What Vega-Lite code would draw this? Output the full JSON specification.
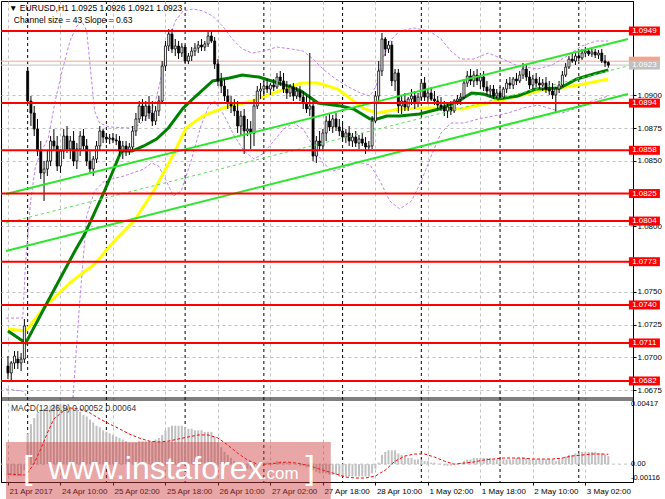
{
"$schema": "https://vega.github.io/schema/vega-lite/v6.json",
"padding": 0,
"background": "#ffffff",
"width": 632,
"height": 481,
"config": {
  "font": "Liberation Sans",
  "view": {"stroke": "#000000", "strokeWidth": 1},
  "axis": {"labelFont": "Liberation Sans", "labelFontSize": 8, "labelColor": "#000000", "tickColor": "#000000", "domainColor": "#000000", "gridColor": "#c0c0c0", "gridDash": [3,3], "gridWidth": 1, "tickSize": 3, "labelPadding": 1, "labelOverlap": false, "labelBound": false, "minExtent": 0}
},
"resolve": {"scale": {"y": "independent"}, "axis": {"y": "independent"}},
"datasets": {
  "candles": [
{"i":0,"o":1.06934,"h":1.0701,"l":1.06835,"c":1.06881,"m":-0.00072},
{"i":1,"o":1.06881,"h":1.06972,"l":1.0682,"c":1.06957,"m":-0.00075},
{"i":2,"o":1.06957,"h":1.07048,"l":1.06911,"c":1.0701,"m":-0.00078},
{"i":3,"o":1.06987,"h":1.07048,"l":1.06911,"c":1.06957,"m":-0.0008},
{"i":4,"o":1.06957,"h":1.07033,"l":1.06896,"c":1.06987,"m":-0.00078},
{"i":5,"o":1.06987,"h":1.07293,"l":1.06957,"c":1.0724,"m":-0.0004},
{"i":6,"o":1.09185,"h":1.09215,"l":1.08941,"c":1.08956,"m":0.002},
{"i":7,"o":1.08956,"h":1.08994,"l":1.08765,"c":1.08864,"m":0.0026},
{"i":8,"o":1.08864,"h":1.08918,"l":1.08689,"c":1.08742,"m":0.003},
{"i":9,"o":1.08742,"h":1.08819,"l":1.08536,"c":1.08574,"m":0.0033},
{"i":10,"o":1.08574,"h":1.08651,"l":1.08361,"c":1.08407,"m":0.0035},
{"i":11,"o":1.08407,"h":1.08498,"l":1.08193,"c":1.08437,"m":0.0036},
{"i":12,"o":1.08437,"h":1.08574,"l":1.08384,"c":1.08498,"m":0.0037},
{"i":13,"o":1.08498,"h":1.08689,"l":1.0846,"c":1.08651,"m":0.0038},
{"i":14,"o":1.08651,"h":1.08742,"l":1.08574,"c":1.08613,"m":0.0039},
{"i":15,"o":1.08613,"h":1.08689,"l":1.08422,"c":1.0846,"m":0.0039},
{"i":16,"o":1.0846,"h":1.0859,"l":1.08407,"c":1.08574,"m":0.0039},
{"i":17,"o":1.08574,"h":1.08742,"l":1.08513,"c":1.08689,"m":0.0039},
{"i":18,"o":1.08689,"h":1.08765,"l":1.08559,"c":1.0859,"m":0.0038},
{"i":19,"o":1.0859,"h":1.08689,"l":1.08513,"c":1.08651,"m":0.0037},
{"i":20,"o":1.08651,"h":1.08727,"l":1.0846,"c":1.08498,"m":0.0036},
{"i":21,"o":1.08498,"h":1.08635,"l":1.08437,"c":1.0859,"m":0.0035},
{"i":22,"o":1.0859,"h":1.08727,"l":1.08536,"c":1.08689,"m":0.0034},
{"i":23,"o":1.08689,"h":1.08742,"l":1.08574,"c":1.08613,"m":0.0032},
{"i":24,"o":1.08613,"h":1.08666,"l":1.0846,"c":1.08498,"m":0.0031},
{"i":25,"o":1.08498,"h":1.08574,"l":1.08407,"c":1.08437,"m":0.0029},
{"i":26,"o":1.08437,"h":1.08536,"l":1.08384,"c":1.08513,"m":0.0027},
{"i":27,"o":1.08513,"h":1.08651,"l":1.08483,"c":1.08613,"m":0.0025},
{"i":28,"o":1.08613,"h":1.08765,"l":1.08574,"c":1.08727,"m":0.0024},
{"i":29,"o":1.08727,"h":1.08742,"l":1.08635,"c":1.08681,"m":0.0022},
{"i":30,"o":1.08681,"h":1.08712,"l":1.08635,"c":1.08666,"m":0.0021},
{"i":31,"o":1.08666,"h":1.08704,"l":1.08628,"c":1.08674,"m":0.002},
{"i":32,"o":1.08674,"h":1.08712,"l":1.08635,"c":1.08659,"m":0.0019},
{"i":33,"o":1.08659,"h":1.08704,"l":1.0862,"c":1.08651,"m":0.0018},
{"i":34,"o":1.08651,"h":1.08689,"l":1.08536,"c":1.08574,"m":0.0017},
{"i":35,"o":1.08574,"h":1.08651,"l":1.08513,"c":1.08613,"m":0.0016},
{"i":36,"o":1.08613,"h":1.08651,"l":1.08536,"c":1.08574,"m":0.0015},
{"i":37,"o":1.08574,"h":1.08635,"l":1.08544,"c":1.08605,"m":0.0014},
{"i":38,"o":1.08605,"h":1.08765,"l":1.08574,"c":1.08727,"m":0.0014},
{"i":39,"o":1.08727,"h":1.08864,"l":1.08689,"c":1.08819,"m":0.0014},
{"i":40,"o":1.08819,"h":1.08956,"l":1.08788,"c":1.08918,"m":0.0015},
{"i":41,"o":1.08918,"h":1.08971,"l":1.08803,"c":1.08841,"m":0.0015},
{"i":42,"o":1.08841,"h":1.08956,"l":1.08803,"c":1.08918,"m":0.0015},
{"i":43,"o":1.08918,"h":1.08994,"l":1.08819,"c":1.08864,"m":0.0015},
{"i":44,"o":1.08864,"h":1.08956,"l":1.08765,"c":1.08803,"m":0.0015},
{"i":45,"o":1.08803,"h":1.08918,"l":1.08773,"c":1.0888,"m":0.0016},
{"i":46,"o":1.0888,"h":1.08994,"l":1.08841,"c":1.08956,"m":0.0017},
{"i":47,"o":1.08956,"h":1.09261,"l":1.08941,"c":1.09223,"m":0.0019},
{"i":48,"o":1.09223,"h":1.09414,"l":1.09185,"c":1.09376,"m":0.0022},
{"i":49,"o":1.09376,"h":1.09505,"l":1.09337,"c":1.09467,"m":0.0024},
{"i":50,"o":1.09467,"h":1.09505,"l":1.09322,"c":1.09353,"m":0.0025},
{"i":51,"o":1.09353,"h":1.09429,"l":1.09299,"c":1.09376,"m":0.0025},
{"i":52,"o":1.09376,"h":1.09414,"l":1.09276,"c":1.09322,"m":0.0025},
{"i":53,"o":1.09322,"h":1.09398,"l":1.09292,"c":1.09368,"m":0.0025},
{"i":54,"o":1.09368,"h":1.09383,"l":1.09246,"c":1.09261,"m":0.0024},
{"i":55,"o":1.09261,"h":1.09322,"l":1.09238,"c":1.09299,"m":0.0023},
{"i":56,"o":1.09299,"h":1.09368,"l":1.09261,"c":1.09337,"m":0.0023},
{"i":57,"o":1.09337,"h":1.09398,"l":1.09299,"c":1.0936,"m":0.0022},
{"i":58,"o":1.0936,"h":1.09414,"l":1.09322,"c":1.09383,"m":0.0022},
{"i":59,"o":1.09383,"h":1.09429,"l":1.09337,"c":1.09368,"m":0.0022},
{"i":60,"o":1.09368,"h":1.09414,"l":1.09337,"c":1.09391,"m":0.0021},
{"i":61,"o":1.09391,"h":1.0949,"l":1.09368,"c":1.09452,"m":0.0021},
{"i":62,"o":1.09452,"h":1.0949,"l":1.09398,"c":1.09414,"m":0.0021},
{"i":63,"o":1.09414,"h":1.09444,"l":1.092,"c":1.09238,"m":0.0018},
{"i":64,"o":1.09238,"h":1.09276,"l":1.0907,"c":1.09109,"m":0.0014},
{"i":65,"o":1.09109,"h":1.0917,"l":1.09017,"c":1.0907,"m":0.0011},
{"i":66,"o":1.0907,"h":1.09124,"l":1.08956,"c":1.08994,"m":0.0008},
{"i":67,"o":1.08994,"h":1.09047,"l":1.08895,"c":1.08941,"m":0.0006},
{"i":68,"o":1.08941,"h":1.08994,"l":1.08864,"c":1.08918,"m":0.0004},
{"i":69,"o":1.08918,"h":1.08971,"l":1.08841,"c":1.0888,"m":0.0002},
{"i":70,"o":1.0888,"h":1.08956,"l":1.08712,"c":1.08765,"m":0.00002},
{"i":71,"o":1.08765,"h":1.0888,"l":1.08689,"c":1.08841,"m":-0.0001},
{"i":72,"o":1.08841,"h":1.08895,"l":1.08552,"c":1.08727,"m":-0.0002},
{"i":73,"o":1.08727,"h":1.08819,"l":1.08689,"c":1.08742,"m":-0.0003},
{"i":74,"o":1.08742,"h":1.08803,"l":1.0859,"c":1.08712,"m":-0.0003},
{"i":75,"o":1.08712,"h":1.08971,"l":1.08613,"c":1.08918,"m":-0.0002},
{"i":76,"o":1.08918,"h":1.0907,"l":1.08895,"c":1.09032,"m":-0.0001},
{"i":77,"o":1.09032,"h":1.09093,"l":1.08971,"c":1.09047,"m":0.00002},
{"i":78,"o":1.09047,"h":1.09109,"l":1.08994,"c":1.0907,"m":0.0001},
{"i":79,"o":1.0907,"h":1.09124,"l":1.09017,"c":1.09047,"m":0.0001},
{"i":80,"o":1.09047,"h":1.09093,"l":1.09002,"c":1.09078,"m":0.0001},
{"i":81,"o":1.09078,"h":1.09124,"l":1.09032,"c":1.09063,"m":0.0001},
{"i":82,"o":1.09063,"h":1.0917,"l":1.09047,"c":1.09139,"m":0.0002},
{"i":83,"o":1.09139,"h":1.09185,"l":1.0907,"c":1.09109,"m":0.0002},
{"i":84,"o":1.09109,"h":1.0917,"l":1.09017,"c":1.09047,"m":0.0001},
{"i":85,"o":1.09047,"h":1.09109,"l":1.08971,"c":1.09017,"m":0.0001},
{"i":86,"o":1.09017,"h":1.09086,"l":1.08986,"c":1.09063,"m":0.0001},
{"i":87,"o":1.09063,"h":1.09093,"l":1.08956,"c":1.08994,"m":0.00002},
{"i":88,"o":1.08994,"h":1.09063,"l":1.08971,"c":1.09032,"m":0.00002},
{"i":89,"o":1.09032,"h":1.0907,"l":1.08956,"c":1.08986,"m":-0.0001},
{"i":90,"o":1.08986,"h":1.09032,"l":1.08895,"c":1.08941,"m":-0.0001},
{"i":91,"o":1.08941,"h":1.09002,"l":1.08864,"c":1.08895,"m":-0.0002},
{"i":92,"o":1.08895,"h":1.09322,"l":1.08841,"c":1.08918,"m":-0.0002},
{"i":93,"o":1.08918,"h":1.08956,"l":1.08498,"c":1.08536,"m":-0.0004},
{"i":94,"o":1.08536,"h":1.08689,"l":1.08483,"c":1.08651,"m":-0.0005},
{"i":95,"o":1.08651,"h":1.08727,"l":1.08574,"c":1.08613,"m":-0.0006},
{"i":96,"o":1.08613,"h":1.08742,"l":1.08574,"c":1.08712,"m":-0.0006},
{"i":97,"o":1.08712,"h":1.08841,"l":1.08651,"c":1.08803,"m":-0.0006},
{"i":98,"o":1.08803,"h":1.08864,"l":1.08727,"c":1.08758,"m":-0.0007},
{"i":99,"o":1.08758,"h":1.08849,"l":1.08712,"c":1.08819,"m":-0.0007},
{"i":100,"o":1.08819,"h":1.08864,"l":1.08727,"c":1.08758,"m":-0.0007},
{"i":101,"o":1.08758,"h":1.08819,"l":1.08689,"c":1.08727,"m":-0.0008},
{"i":102,"o":1.08727,"h":1.08788,"l":1.08651,"c":1.08681,"m":-0.0008},
{"i":103,"o":1.08681,"h":1.08742,"l":1.08635,"c":1.08712,"m":-0.0008},
{"i":104,"o":1.08712,"h":1.08765,"l":1.08613,"c":1.08651,"m":-0.0008},
{"i":105,"o":1.08651,"h":1.08712,"l":1.08605,"c":1.08681,"m":-0.0008},
{"i":106,"o":1.08681,"h":1.08727,"l":1.08605,"c":1.08635,"m":-0.0008},
{"i":107,"o":1.08635,"h":1.08697,"l":1.0859,"c":1.08666,"m":-0.0008},
{"i":108,"o":1.08666,"h":1.08712,"l":1.08613,"c":1.08635,"m":-0.0008},
{"i":109,"o":1.08635,"h":1.08681,"l":1.08552,"c":1.08605,"m":-0.0008},
{"i":110,"o":1.08605,"h":1.08651,"l":1.08574,"c":1.08613,"m":-0.0008},
{"i":111,"o":1.08613,"h":1.08841,"l":1.0859,"c":1.08803,"m":-0.0006},
{"i":112,"o":1.08803,"h":1.09032,"l":1.08788,"c":1.08994,"m":-0.0003},
{"i":113,"o":1.08994,"h":1.09261,"l":1.08956,"c":1.09185,"m":0.0001},
{"i":114,"o":1.09185,"h":1.09475,"l":1.09147,"c":1.09429,"m":0.0006},
{"i":115,"o":1.09429,"h":1.09444,"l":1.09299,"c":1.09353,"m":0.0008},
{"i":116,"o":1.09353,"h":1.09414,"l":1.09322,"c":1.09383,"m":0.0009},
{"i":117,"o":1.09383,"h":1.09414,"l":1.0907,"c":1.09109,"m":0.0009},
{"i":118,"o":1.09109,"h":1.092,"l":1.09032,"c":1.0917,"m":0.0009},
{"i":119,"o":1.0917,"h":1.092,"l":1.08864,"c":1.08918,"m":0.0007},
{"i":120,"o":1.08918,"h":1.08994,"l":1.08857,"c":1.08956,"m":0.0006},
{"i":121,"o":1.08956,"h":1.09017,"l":1.0888,"c":1.0891,"m":0.0005},
{"i":122,"o":1.0891,"h":1.08986,"l":1.0888,"c":1.08971,"m":0.0004},
{"i":123,"o":1.08971,"h":1.09047,"l":1.08925,"c":1.08994,"m":0.0004},
{"i":124,"o":1.08994,"h":1.09032,"l":1.08895,"c":1.08941,"m":0.0003},
{"i":125,"o":1.08941,"h":1.09017,"l":1.0891,"c":1.08986,"m":0.0003},
{"i":126,"o":1.08986,"h":1.09124,"l":1.08956,"c":1.09093,"m":0.0003},
{"i":127,"o":1.09093,"h":1.09139,"l":1.08956,"c":1.08986,"m":0.0002},
{"i":128,"o":1.08986,"h":1.09047,"l":1.08941,"c":1.09017,"m":0.0002},
{"i":129,"o":1.09017,"h":1.09063,"l":1.08956,"c":1.08971,"m":0.0001},
{"i":130,"o":1.08971,"h":1.09032,"l":1.08925,"c":1.08956,"m":0.0001},
{"i":131,"o":1.08956,"h":1.08994,"l":1.08895,"c":1.08925,"m":0.00002},
{"i":132,"o":1.08925,"h":1.08986,"l":1.0888,"c":1.0891,"m":0.00002},
{"i":133,"o":1.0891,"h":1.08956,"l":1.08841,"c":1.0888,"m":-0.0001},
{"i":134,"o":1.0888,"h":1.08941,"l":1.08826,"c":1.0891,"m":-0.0001},
{"i":135,"o":1.0891,"h":1.08956,"l":1.08849,"c":1.0888,"m":-0.0001},
{"i":136,"o":1.0888,"h":1.08971,"l":1.08864,"c":1.08956,"m":0.00002},
{"i":137,"o":1.08956,"h":1.09002,"l":1.08925,"c":1.08971,"m":0.00002},
{"i":138,"o":1.08971,"h":1.09017,"l":1.08925,"c":1.08986,"m":0.0001},
{"i":139,"o":1.08986,"h":1.09124,"l":1.08971,"c":1.09093,"m":0.0002},
{"i":140,"o":1.09093,"h":1.09185,"l":1.09063,"c":1.09147,"m":0.0003},
{"i":141,"o":1.09147,"h":1.092,"l":1.09078,"c":1.09109,"m":0.0003},
{"i":142,"o":1.09109,"h":1.09185,"l":1.09063,"c":1.09154,"m":0.0004},
{"i":143,"o":1.09154,"h":1.092,"l":1.09078,"c":1.09109,"m":0.0004},
{"i":144,"o":1.09109,"h":1.0917,"l":1.09047,"c":1.09139,"m":0.0004},
{"i":145,"o":1.09139,"h":1.09185,"l":1.09032,"c":1.09063,"m":0.0004},
{"i":146,"o":1.09063,"h":1.09109,"l":1.09002,"c":1.09032,"m":0.0004},
{"i":147,"o":1.09032,"h":1.09078,"l":1.08986,"c":1.09047,"m":0.0004},
{"i":148,"o":1.09047,"h":1.09078,"l":1.08971,"c":1.08994,"m":0.0003},
{"i":149,"o":1.08994,"h":1.09047,"l":1.08964,"c":1.09017,"m":0.0003},
{"i":150,"o":1.09017,"h":1.09063,"l":1.08971,"c":1.08986,"m":0.0003},
{"i":151,"o":1.08986,"h":1.09063,"l":1.08971,"c":1.09047,"m":0.0003},
{"i":152,"o":1.09047,"h":1.09124,"l":1.09017,"c":1.09093,"m":0.0003},
{"i":153,"o":1.09093,"h":1.09139,"l":1.09047,"c":1.09078,"m":0.0003},
{"i":154,"o":1.09078,"h":1.09139,"l":1.09047,"c":1.09124,"m":0.0003},
{"i":155,"o":1.09124,"h":1.0917,"l":1.09078,"c":1.09109,"m":0.0004},
{"i":156,"o":1.09109,"h":1.09185,"l":1.09093,"c":1.09154,"m":0.0004},
{"i":157,"o":1.09154,"h":1.09246,"l":1.09124,"c":1.092,"m":0.0004},
{"i":158,"o":1.092,"h":1.09231,"l":1.09109,"c":1.09139,"m":0.0004},
{"i":159,"o":1.09139,"h":1.09185,"l":1.09047,"c":1.09078,"m":0.0003},
{"i":160,"o":1.09078,"h":1.09154,"l":1.09047,"c":1.09124,"m":0.0003},
{"i":161,"o":1.09124,"h":1.0917,"l":1.09063,"c":1.09093,"m":0.0003},
{"i":162,"o":1.09093,"h":1.09139,"l":1.09047,"c":1.09078,"m":0.0003},
{"i":163,"o":1.09078,"h":1.09124,"l":1.09032,"c":1.09093,"m":0.0003},
{"i":164,"o":1.09093,"h":1.09139,"l":1.09017,"c":1.09047,"m":0.0003},
{"i":165,"o":1.09047,"h":1.09109,"l":1.09002,"c":1.09032,"m":0.0003},
{"i":166,"o":1.09032,"h":1.09093,"l":1.08971,"c":1.09002,"m":0.0003},
{"i":167,"o":1.09002,"h":1.09063,"l":1.08864,"c":1.09047,"m":0.0002},
{"i":168,"o":1.09047,"h":1.09109,"l":1.09017,"c":1.09078,"m":0.0003},
{"i":169,"o":1.09078,"h":1.09185,"l":1.09063,"c":1.09154,"m":0.0004},
{"i":170,"o":1.09154,"h":1.09246,"l":1.09139,"c":1.09215,"m":0.0005},
{"i":171,"o":1.09215,"h":1.09299,"l":1.092,"c":1.09276,"m":0.0006},
{"i":172,"o":1.09276,"h":1.09322,"l":1.09246,"c":1.09261,"m":0.0006},
{"i":173,"o":1.09261,"h":1.09322,"l":1.09231,"c":1.09299,"m":0.0007},
{"i":174,"o":1.09299,"h":1.09337,"l":1.09261,"c":1.09284,"m":0.0007},
{"i":175,"o":1.09284,"h":1.09353,"l":1.09269,"c":1.09322,"m":0.0008},
{"i":176,"o":1.09322,"h":1.09368,"l":1.09292,"c":1.09337,"m":0.0008},
{"i":177,"o":1.09337,"h":1.0936,"l":1.09299,"c":1.09315,"m":0.0008},
{"i":178,"o":1.09315,"h":1.09353,"l":1.09292,"c":1.0933,"m":0.0008},
{"i":179,"o":1.0933,"h":1.09353,"l":1.09284,"c":1.09307,"m":0.0008},
{"i":180,"o":1.09307,"h":1.09345,"l":1.09276,"c":1.09322,"m":0.0007},
{"i":181,"o":1.09322,"h":1.09353,"l":1.09246,"c":1.09261,"m":0.0007},
{"i":182,"o":1.09261,"h":1.09307,"l":1.09215,"c":1.09246,"m":0.0006},
{"i":183,"o":1.0925,"h":1.0926,"l":1.0921,"c":1.0923,"m":0.00052}
  ],
  "sig": [
{"i":0,"m":-0.00064},{"i":5,"m":-0.00071},{"i":6,"m":-0.00058},{"i":8,"m":0.00007},{"i":10,"m":0.00098},{"i":12,"m":0.00202},{"i":14,"m":0.00294},{"i":17,"m":0.00346},{"i":19,"m":0.00365},{"i":22,"m":0.00358},{"i":25,"m":0.00333},{"i":28,"m":0.00294},{"i":31,"m":0.00261},{"i":34,"m":0.00229},{"i":37,"m":0.00196},{"i":40,"m":0.0017},{"i":43,"m":0.0015},{"i":46,"m":0.00144},{"i":49,"m":0.0015},{"i":52,"m":0.00164},{"i":55,"m":0.00177},{"i":58,"m":0.0019},{"i":61,"m":0.0019},{"i":64,"m":0.0017},{"i":67,"m":0.00124},{"i":70,"m":0.00072},{"i":73,"m":0.00027},{"i":76,"m":0.0},{"i":79,"m":0.0},{"i":82,"m":0.00007},{"i":85,"m":0.00014},{"i":88,"m":0.00007},{"i":91,"m":-0.00006},{"i":94,"m":-0.00025},{"i":97,"m":-0.00045},{"i":100,"m":-0.00064},{"i":103,"m":-0.00084},{"i":106,"m":-0.0009},{"i":109,"m":-0.0009},{"i":112,"m":-0.00077},{"i":115,"m":-0.00039},{"i":118,"m":0.0002},{"i":121,"m":0.00053},{"i":124,"m":0.00066},{"i":127,"m":0.00066},{"i":130,"m":0.00046},{"i":133,"m":0.0002},{"i":136,"m":0.0},{"i":139,"m":0.00007},{"i":142,"m":0.00014},{"i":145,"m":0.00027},{"i":148,"m":0.00033},{"i":151,"m":0.0004},{"i":154,"m":0.0004},{"i":157,"m":0.0004},{"i":160,"m":0.00033},{"i":163,"m":0.00033},{"i":166,"m":0.00033},{"i":169,"m":0.0004},{"i":172,"m":0.00053},{"i":175,"m":0.00059},{"i":178,"m":0.00066},{"i":181,"m":0.00066},{"i":183,"m":0.00064}
  ],
  "ma": [
{"s":"g","i":0,"p":1.07201},{"s":"g","i":5.4,"p":1.07109},{"s":"g","i":11.4,"p":1.07392},{"s":"g","i":20.4,"p":1.07811},{"s":"g","i":23.4,"p":1.07941},{"s":"g","i":29.4,"p":1.08269},{"s":"g","i":32.4,"p":1.08445},{"s":"g","i":34.5,"p":1.08574},{"s":"g","i":37.8,"p":1.08574},{"s":"g","i":41.4,"p":1.08613},{"s":"g","i":45.3,"p":1.08666},{"s":"g","i":48.9,"p":1.0875},{"s":"g","i":53.4,"p":1.08902},{"s":"g","i":57.3,"p":1.08994},{"s":"g","i":62.4,"p":1.09109},{"s":"g","i":67.5,"p":1.09131},{"s":"g","i":71.4,"p":1.09154},{"s":"g","i":76.5,"p":1.09139},{"s":"g","i":80.4,"p":1.09109},{"s":"g","i":85.5,"p":1.0907},{"s":"g","i":89.4,"p":1.09032},{"s":"g","i":94.5,"p":1.08941},{"s":"g","i":101.4,"p":1.08918},{"s":"g","i":105.3,"p":1.08895},{"s":"g","i":110.4,"p":1.08819},{"s":"g","i":112.5,"p":1.08819},{"s":"g","i":115.5,"p":1.08841},{"s":"g","i":119.4,"p":1.08841},{"s":"g","i":125.4,"p":1.08857},{"s":"g","i":131.4,"p":1.08895},{"s":"g","i":137.4,"p":1.08956},{"s":"g","i":141.3,"p":1.09017},{"s":"g","i":144.9,"p":1.09009},{"s":"g","i":149.4,"p":1.08971},{"s":"g","i":155.4,"p":1.08994},{"s":"g","i":160.8,"p":1.09047},{"s":"g","i":168.3,"p":1.09055},{"s":"g","i":173.4,"p":1.09124},{"s":"g","i":178.5,"p":1.09162},{"s":"g","i":183,"p":1.09192},
{"s":"y","i":0,"p":1.07216},{"s":"y","i":5.4,"p":1.07201},{"s":"y","i":11.4,"p":1.07392},{"s":"y","i":19.5,"p":1.07582},{"s":"y","i":26.4,"p":1.07712},{"s":"y","i":32.4,"p":1.07888},{"s":"y","i":38.4,"p":1.0804},{"s":"y","i":44.4,"p":1.08269},{"s":"y","i":48.9,"p":1.08475},{"s":"y","i":54.3,"p":1.0875},{"s":"y","i":59.4,"p":1.08841},{"s":"y","i":65.4,"p":1.08902},{"s":"y","i":74.4,"p":1.08956},{"s":"y","i":82.5,"p":1.09032},{"s":"y","i":89.4,"p":1.09093},{"s":"y","i":94.5,"p":1.09093},{"s":"y","i":100.5,"p":1.09047},{"s":"y","i":108.3,"p":1.08902},{"s":"y","i":112.5,"p":1.08864},{"s":"y","i":119.4,"p":1.08895},{"s":"y","i":127.5,"p":1.08902},{"s":"y","i":133.5,"p":1.08902},{"s":"y","i":138.3,"p":1.08895},{"s":"y","i":144.9,"p":1.08933},{"s":"y","i":149.4,"p":1.08956},{"s":"y","i":155.4,"p":1.08994},{"s":"y","i":161.4,"p":1.09032},{"s":"y","i":168.3,"p":1.09055},{"s":"y","i":175.5,"p":1.09086},{"s":"y","i":183,"p":1.09124}
  ],
  "bands": [
{"b":"u","i":-0.6,"p":1.0730},{"b":"u","i":4.5,"p":1.0730},{"b":"u","i":5.4,"p":1.07735},{"b":"u","i":6.9,"p":1.08193},{"b":"u","i":8.4,"p":1.0846},{"b":"u","i":10.2,"p":1.08574},{"b":"u","i":12.3,"p":1.08674},{"b":"u","i":14.4,"p":1.08956},{"b":"u","i":16.5,"p":1.09185},{"b":"u","i":18.9,"p":1.09414},{"b":"u","i":21,"p":1.09528},{"b":"u","i":22.5,"p":1.09566},{"b":"u","i":24,"p":1.0949},{"b":"u","i":25.2,"p":1.09185},{"b":"u","i":26.4,"p":1.0888},{"b":"u","i":27.9,"p":1.08788},{"b":"u","i":30.9,"p":1.08758},{"b":"u","i":36.9,"p":1.0875},{"b":"u","i":39.9,"p":1.08773},{"b":"u","i":42.9,"p":1.08841},{"b":"u","i":45,"p":1.08956},{"b":"u","i":46.8,"p":1.09147},{"b":"u","i":48.9,"p":1.09414},{"b":"u","i":51,"p":1.09566},{"b":"u","i":53.4,"p":1.09643},{"b":"u","i":56.4,"p":1.09658},{"b":"u","i":59.4,"p":1.09643},{"b":"u","i":62.4,"p":1.09604},{"b":"u","i":65.4,"p":1.09528},{"b":"u","i":68.4,"p":1.09429},{"b":"u","i":71.4,"p":1.09353},{"b":"u","i":74.4,"p":1.09322},{"b":"u","i":78,"p":1.09337},{"b":"u","i":81.9,"p":1.09368},{"b":"u","i":86.4,"p":1.09353},{"b":"u","i":90,"p":1.09337},{"b":"u","i":93,"p":1.09276},{"b":"u","i":96,"p":1.092},{"b":"u","i":99.9,"p":1.09124},{"b":"u","i":103.8,"p":1.09063},{"b":"u","i":107.4,"p":1.09017},{"b":"u","i":110.4,"p":1.08994},{"b":"u","i":112.2,"p":1.0907},{"b":"u","i":114,"p":1.09261},{"b":"u","i":116.4,"p":1.09414},{"b":"u","i":119.4,"p":1.0949},{"b":"u","i":123.9,"p":1.09513},{"b":"u","i":128.4,"p":1.0949},{"b":"u","i":132,"p":1.09429},{"b":"u","i":135,"p":1.09337},{"b":"u","i":138,"p":1.09276},{"b":"u","i":141.9,"p":1.09276},{"b":"u","i":146.4,"p":1.09322},{"b":"u","i":150.9,"p":1.09276},{"b":"u","i":155.4,"p":1.09223},{"b":"u","i":161.4,"p":1.092},{"b":"u","i":165.9,"p":1.09231},{"b":"u","i":170.4,"p":1.09299},{"b":"u","i":174.9,"p":1.09376},{"b":"u","i":179.4,"p":1.09414},{"b":"u","i":183,"p":1.09414},
{"b":"l1","i":-0.6,"p":1.06758},{"b":"l1","i":4.5,"p":1.06743},{"b":"l1","i":5.4,"p":1.0672},{"b":"l1","i":5.46,"p":1.0669},
{"b":"l2","i":19.8,"p":1.0669},{"b":"l2","i":21.9,"p":1.0743},{"b":"l2","i":24,"p":1.08078},{"b":"l2","i":26.4,"p":1.08269},{"b":"l2","i":29.4,"p":1.08346},{"b":"l2","i":35.4,"p":1.08384},{"b":"l2","i":41.4,"p":1.08437},{"b":"l2","i":43.8,"p":1.08483},{"b":"l2","i":45.9,"p":1.0846},{"b":"l2","i":48,"p":1.08361},{"b":"l2","i":50.4,"p":1.08231},{"b":"l2","i":52.8,"p":1.08269},{"b":"l2","i":55.8,"p":1.08498},{"b":"l2","i":58.8,"p":1.08765},{"b":"l2","i":61.2,"p":1.08918},{"b":"l2","i":63,"p":1.08956},{"b":"l2","i":66,"p":1.08841},{"b":"l2","i":69,"p":1.08689},{"b":"l2","i":72,"p":1.08574},{"b":"l2","i":75,"p":1.08513},{"b":"l2","i":78,"p":1.08559},{"b":"l2","i":81,"p":1.08651},{"b":"l2","i":84,"p":1.08742},{"b":"l2","i":87,"p":1.08788},{"b":"l2","i":90,"p":1.08742},{"b":"l2","i":93,"p":1.08613},{"b":"l2","i":96,"p":1.08483},{"b":"l2","i":99,"p":1.08422},{"b":"l2","i":102.9,"p":1.08452},{"b":"l2","i":106.8,"p":1.0849},{"b":"l2","i":110.4,"p":1.08468},{"b":"l2","i":113.4,"p":1.08346},{"b":"l2","i":116.4,"p":1.08193},{"b":"l2","i":119.4,"p":1.08132},{"b":"l2","i":123,"p":1.08193},{"b":"l2","i":126,"p":1.08346},{"b":"l2","i":129,"p":1.08536},{"b":"l2","i":132,"p":1.08712},{"b":"l2","i":135,"p":1.08788},{"b":"l2","i":138.9,"p":1.08788},{"b":"l2","i":143.4,"p":1.08819},{"b":"l2","i":147.9,"p":1.08841},{"b":"l2","i":152.4,"p":1.08864},{"b":"l2","i":156.9,"p":1.08902},{"b":"l2","i":161.4,"p":1.08925},{"b":"l2","i":165.9,"p":1.08895},{"b":"l2","i":168.9,"p":1.08864},{"b":"l2","i":173.4,"p":1.08902},{"b":"l2","i":177.9,"p":1.08956},{"b":"l2","i":183,"p":1.08994}
  ],
  "chan": [
{"k":"up","i":-0.6,"p":1.08246},{"k":"up","i":189,"p":1.09429},
{"k":"lo","i":-0.6,"p":1.07811},{"k":"lo","i":189,"p":1.09009},
{"k":"mid","i":-0.6,"p":1.08025},{"k":"mid","i":189,"p":1.09223}
  ],
  "levels": [{"p":1.0949},{"p":1.0894},{"p":1.0858},{"p":1.0825},{"p":1.0804},{"p":1.0773},{"p":1.0740},{"p":1.0711},{"p":1.0682}],
  "quotes": [{"k":"ask","p":1.0926},{"k":"bid","p":1.0923}],
  "days": [{"i":6},{"i":30},{"i":54},{"i":78},{"i":102},{"i":126},{"i":150},{"i":174}]
},
"layer": [
{
  "layer": [
    {"data": {"name": "days"}, "mark": {"type": "rule", "color": "#000000", "strokeDash": [3,3], "strokeWidth": 1},
     "encoding": {"x": {"field": "i", "type": "quantitative", "scale": {"domain": [-0.6, 189], "nice": false, "zero": false},
       "axis": {"title": null, "values": [0,8,16,24,32,40,48,56,64,72,80,88,96,104,112,120,128,136,144,152,160,168,176,184],
         "labelExpr": "datum.value % 16 == 0 ? ['21 Apr 2017','24 Apr 10:00','25 Apr 02:00','25 Apr 18:00','26 Apr 10:00','27 Apr 02:00','27 Apr 18:00','28 Apr 10:00','1 May 02:00','1 May 18:00','2 May 10:00','3 May 02:00'][datum.value / 16] : ''",
         "labelAlign": "left", "labelOffset": 1, "labelFlush": false, "grid": true, "tickSize": 3, "labelPadding": 2}}}},
    {"data": {"name": "quotes"}, "mark": {"type": "rule", "strokeWidth": 1},
     "encoding": {
       "y": {"field": "p", "type": "quantitative", "scale": {"domain": [1.060492, 1.09719], "nice": false, "zero": false},
             "axis": {"orient": "right", "title": null, "values": [1.0675,1.07,1.0725,1.075,1.08,1.085,1.0875,1.09], "format": ".4f", "grid": true, "tickSize": 3}},
       "color": {"field": "k", "type": "nominal", "scale": {"domain": ["ask","bid"], "range": ["#f4a48c","#c0c0c0"]}, "legend": null}}},
    {"data": {"name": "bands"}, "mark": {"type": "line", "color": "#c27ff0", "strokeWidth": 1, "strokeDash": [3,2]},
     "encoding": {"x": {"field": "i", "type": "quantitative"}, "y": {"field": "p", "type": "quantitative"}, "detail": {"field": "b"}}},
    {"data": {"name": "ma"}, "transform": [{"filter": "datum.s == 'y'"}], "mark": {"type": "line", "color": "#ffff00", "strokeWidth": 3},
     "encoding": {"x": {"field": "i", "type": "quantitative"}, "y": {"field": "p", "type": "quantitative"}}},
    {"data": {"name": "ma"}, "transform": [{"filter": "datum.s == 'g'"}], "mark": {"type": "line", "color": "#008000", "strokeWidth": 3},
     "encoding": {"x": {"field": "i", "type": "quantitative"}, "y": {"field": "p", "type": "quantitative"}}},
    {"data": {"name": "candles"}, "mark": {"type": "rule", "color": "#000000", "strokeWidth": 1},
     "encoding": {"x": {"field": "i", "type": "quantitative"}, "y": {"field": "l", "type": "quantitative"}, "y2": {"field": "h"}}},
    {"data": {"name": "candles"}, "mark": {"type": "bar", "size": 2, "stroke": "#000000", "strokeWidth": 0.8},
     "encoding": {"x": {"field": "i", "type": "quantitative"}, "y": {"field": "o", "type": "quantitative"}, "y2": {"field": "c"},
       "fill": {"condition": {"test": "datum.c >= datum.o", "value": "#ffffff"}, "value": "#000000"}}},
    {"data": {"name": "chan"}, "transform": [{"filter": "datum.k != 'mid'"}], "mark": {"type": "line", "color": "#2ee62e", "strokeWidth": 2},
     "encoding": {"x": {"field": "i", "type": "quantitative"}, "y": {"field": "p", "type": "quantitative"}, "detail": {"field": "k"}}},
    {"data": {"name": "chan"}, "transform": [{"filter": "datum.k == 'mid'"}], "mark": {"type": "line", "color": "#55e055", "strokeWidth": 1, "strokeDash": [3,3]},
     "encoding": {"x": {"field": "i", "type": "quantitative"}, "y": {"field": "p", "type": "quantitative"}}},
    {"data": {"name": "levels"}, "mark": {"type": "rule", "color": "#ff0000", "strokeWidth": 2},
     "encoding": {"y": {"field": "p", "type": "quantitative"}}},
    {"data": {"values": [{"t": "frame"}]}, "mark": {"type": "rule", "color": "#000000", "strokeWidth": 1},
     "encoding": {"y": {"datum": 1.0669}}},
    {"data": {"name": "levels"}, "mark": {"type": "point", "shape": "M-1,-0.29L1,-0.29L1,0.29L-1,0.29Z", "size": 961, "filled": true, "color": "#ff0000", "opacity": 1, "strokeWidth": 0},
     "encoding": {"x": {"datum": 194}, "y": {"field": "p", "type": "quantitative"}}},
    {"data": {"name": "levels"}, "mark": {"type": "text", "color": "#ffffff", "fontSize": 8, "align": "center", "baseline": "middle"},
     "encoding": {"x": {"datum": 194}, "y": {"field": "p", "type": "quantitative"}, "text": {"field": "p", "type": "quantitative", "format": ".4f"}}},
    {"data": {"name": "quotes"}, "mark": {"type": "point", "shape": "M-1,-0.29L1,-0.29L1,0.29L-1,0.29Z", "size": 961, "filled": true, "opacity": 1, "strokeWidth": 0},
     "encoding": {"x": {"datum": 194}, "y": {"field": "p", "type": "quantitative"},
       "color": {"field": "k", "type": "nominal", "scale": {"domain": ["ask","bid"], "range": ["#f59a80","#000000"]}, "legend": null}}},
    {"data": {"name": "quotes"}, "transform": [{"filter": "datum.k == 'bid'"}], "mark": {"type": "text", "color": "#ffffff", "fontSize": 8, "align": "center", "baseline": "middle"},
     "encoding": {"x": {"datum": 194}, "y": {"field": "p", "type": "quantitative"}, "text": {"field": "p", "type": "quantitative", "format": ".4f"}}},
    {"data": {"values": [{"t": "▼ EURUSD,H1  1.0925 1.0926 1.0921 1.0923"}]}, "mark": {"type": "text", "color": "#000000", "fontSize": 8.5, "align": "left", "baseline": "middle"},
     "encoding": {"x": {"datum": 0.3}, "y": {"datum": 1.09665}, "text": {"field": "t"}}},
    {"data": {"values": [{"t": "Channel size = 43 Slope = 0.63"}]}, "mark": {"type": "text", "color": "#000000", "fontSize": 8.5, "align": "left", "baseline": "middle"},
     "encoding": {"x": {"datum": 1.8}, "y": {"datum": 1.09574}, "text": {"field": "t"}}}
  ]
},
{
  "layer": [
    {"data": {"values": [{"t": "zero"}]}, "mark": {"type": "rule", "color": "#c0c0c0", "strokeDash": [3,3], "strokeWidth": 1},
     "encoding": {"y": {"datum": 0, "scale": {"domain": [-0.00116, 0.030105], "nice": false, "zero": false}, "axis": null}}},
    {"data": {"values": [{"t": "frame"}]}, "mark": {"type": "rule", "color": "#000000", "strokeWidth": 1},
     "encoding": {"y": {"datum": 0.00417, "axis": null}}},
    {"data": {"name": "candles"}, "mark": {"type": "bar", "size": 2, "color": "#c0c0c0"},
     "encoding": {"x": {"field": "i", "type": "quantitative"}, "y": {"field": "m", "type": "quantitative", "axis": null}, "y2": {"datum": 0}}},
    {"data": {"name": "sig"}, "mark": {"type": "line", "color": "#ff0000", "strokeWidth": 1, "strokeDash": [3,2]},
     "encoding": {"x": {"field": "i", "type": "quantitative"}, "y": {"field": "m", "type": "quantitative", "axis": null}}},
    {"data": {"values": [{"t": "MACD(12,26,9) 0.00052 0.00064"}]}, "mark": {"type": "text", "color": "#333333", "fontSize": 8.5, "align": "left", "baseline": "middle"},
     "encoding": {"x": {"datum": 0.9}, "y": {"datum": 0.00365, "axis": null}, "text": {"field": "t"}}},
    {"data": {"values": [{"t": "0.00417"}]}, "mark": {"type": "text", "color": "#000000", "fontSize": 7.5, "align": "left", "baseline": "top"},
     "encoding": {"x": {"datum": 189.9}, "y": {"datum": 0.00417, "axis": null}, "text": {"field": "t"}}},
    {"data": {"values": [{"t": "0.00"}]}, "mark": {"type": "text", "color": "#000000", "fontSize": 7.5, "align": "left", "baseline": "middle"},
     "encoding": {"x": {"datum": 189.9}, "y": {"datum": 0, "axis": null}, "text": {"field": "t"}}},
    {"data": {"values": [{"t": "-0.00116"}]}, "mark": {"type": "text", "color": "#000000", "fontSize": 7.5, "align": "left", "baseline": "bottom"},
     "encoding": {"x": {"datum": 189.9}, "y": {"datum": -0.00116, "axis": null}, "text": {"field": "t"}}},
    {"data": {"values": [{"t": "watermark"}]}, "mark": {"type": "rect", "color": "#cc3939", "opacity": 0.45},
     "encoding": {"x": {"datum": -0.6}, "x2": {"datum": 98.4}, "y": {"datum": 0.00144, "axis": null}, "y2": {"datum": -0.00233}}},
    {"data": {"values": [{"t": "www.instaforex"}]}, "mark": {"type": "text", "color": "#ffffff", "fontSize": 32, "align": "left", "baseline": "alphabetic"},
     "encoding": {"x": {"datum": 12.3}, "y": {"datum": -0.00097, "axis": null}, "text": {"field": "t"}}},
    {"data": {"values": [{"t": ".com"}]}, "mark": {"type": "text", "color": "#ffffff", "fontSize": 17, "align": "left", "baseline": "alphabetic"},
     "encoding": {"x": {"datum": 77.4}, "y": {"datum": -0.00097, "axis": null}, "text": {"field": "t"}}},
    {"data": {"values": [{"t": "["}]}, "mark": {"type": "text", "color": "#ffffff", "fontSize": 34, "align": "center", "baseline": "middle"},
     "encoding": {"x": {"datum": 6}, "y": {"datum": -0.00032, "axis": null}, "text": {"field": "t"}}},
    {"data": {"values": [{"t": "]"}]}, "mark": {"type": "text", "color": "#ffffff", "fontSize": 34, "align": "center", "baseline": "middle"},
     "encoding": {"x": {"datum": 92.1}, "y": {"datum": -0.00032, "axis": null}, "text": {"field": "t"}}}
  ]
}
]
}
